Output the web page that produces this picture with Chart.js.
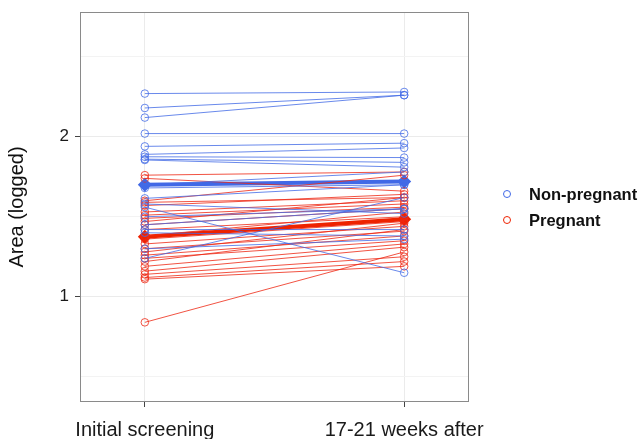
<!DOCTYPE html>
<html>
<head>
<meta charset="utf-8">
<script src="https://cdn.jsdelivr.net/npm/chart.js@4"></script>
<style>
  html, body { margin: 0; padding: 0; background: #fff; }
  #wrap { position: relative; width: 644px; height: 439px; }
  #legend { position: absolute; left: 503px; top: 181px; font-family: "Liberation Sans", Arial, sans-serif; font-weight: bold; font-size: 16.5px; color: #111; }
  .item { display: flex; align-items: center; height: 26px; }
  .dot { width: 6px; height: 6px; border: 1.3px solid; border-radius: 50%; margin-right: 18px; }
</style>
</head>
<body>
<div id="wrap">
  <canvas id="chart" width="644" height="439"></canvas>
  <div id="legend"></div>
</div>
<script>
// categorias e ticks
const categories = ['Initial screening', '17-21 weeks after'];
const yTicks = [0.5, 1, 1.5, 2, 2.5];
const yLabels = ['', '1', '', '2', ''];
const groups = ['Non-pregnant', 'Pregnant'];

// valores individuais (log da area)
const nonPregInitial = [2.27, 2.18, 2.12, 2.02, 1.94, 1.89, 1.875, 1.86, 1.855, 1.70, 1.68, 1.615, 1.58, 1.56, 1.50, 1.45, 1.42, 1.40, 1.30, 1.24];
const nonPregAfter   = [2.28, 2.26, 2.26, 2.02, 1.96, 1.93, 1.87, 1.84, 1.81, 1.78, 1.70, 1.70, 1.52, 1.15, 1.55, 1.55, 1.42, 1.38, 1.36, 1.62];
const pregInitial = [1.76, 1.74, 1.60, 1.59, 1.57, 1.53, 1.51, 1.49, 1.47, 1.45, 1.42, 1.38, 1.36, 1.33, 1.30, 1.28, 1.26, 1.24, 1.22, 1.19, 1.16, 1.14, 1.12, 1.11, 0.84];
const pregAfter   = [1.78, 1.66, 1.76, 1.62, 1.64, 1.60, 1.58, 1.56, 1.62, 1.55, 1.50, 1.53, 1.47, 1.44, 1.41, 1.46, 1.38, 1.35, 1.42, 1.33, 1.31, 1.25, 1.22, 1.19, 1.28];

// medias por grupo
const nonPregMean = [1.70, 1.72];
const pregMean = [1.375, 1.485];

const blue = 'rgba(68, 108, 230, 0.8)';
const red = 'rgba(238, 40, 20, 0.8)';
const blueSolid = '#4169E6';
const redSolid = '#EE2200';
const font = 'Liberation Sans, Arial, sans-serif';

function subjectSets(ini, aft, color) {
  return ini.map((v, i) => ({
    data: [{ x: 1, y: v }, { x: 2, y: aft[i] }],
    showLine: true,
    borderColor: color,
    borderWidth: 1,
    pointRadius: 3.8,
    pointBorderWidth: 1,
    pointBorderColor: color,
    pointBackgroundColor: 'rgba(0,0,0,0)'
  }));
}

function meanSet(vals, color) {
  return {
    data: vals.map((v, i) => ({ x: i + 1, y: v })),
    showLine: true,
    borderColor: color,
    borderWidth: 4,
    pointStyle: 'rectRot',
    pointRadius: 7,
    pointBorderWidth: 0,
    pointBackgroundColor: color
  };
}

const datasets = [
  ...subjectSets(nonPregInitial, nonPregAfter, blue),
  ...subjectSets(pregInitial, pregAfter, red),
  meanSet(nonPregMean, blueSolid),
  meanSet(pregMean, redSolid)
];

const panelBorder = {
  id: 'panelBorder',
  beforeDatasetsDraw(chart) {
    const { ctx, chartArea: a } = chart;
    ctx.save();
    ctx.strokeStyle = '#8a8a8a';
    ctx.lineWidth = 1;
    ctx.strokeRect(a.left + 0.5, a.top + 0.5, a.right - a.left - 1, a.bottom - a.top - 1);
    ctx.restore();
  }
};

new Chart(document.getElementById('chart'), {
  type: 'scatter',
  data: { datasets },
  plugins: [panelBorder],
  options: {
    responsive: false,
    animation: false,
    layout: { padding: { top: 12, right: 175, left: 0, bottom: 0 } },
    plugins: { legend: { display: false }, tooltip: { enabled: false } },
    scales: {
      x: {
        type: 'linear',
        min: 0.75,
        max: 2.25,
        afterBuildTicks: s => { s.ticks = [1, 2].map(v => ({ value: v })); },
        afterFit: s => { s.height = 37; s.paddingLeft = 0; s.paddingRight = 0; },
        ticks: {
          callback: v => categories[v - 1],
          font: { family: font, size: 20 },
          color: '#1a1a1a',
          padding: 11,
          maxRotation: 0
        },
        grid: { color: '#EBEBEB', tickColor: '#444', tickLength: 5 },
        border: { display: false }
      },
      y: {
        type: 'linear',
        min: 0.342,
        max: 2.78,
        afterBuildTicks: s => { s.ticks = yTicks.map(v => ({ value: v })); },
        afterFit: s => { s.width = 80; s.paddingTop = 0; s.paddingBottom = 0; },
        ticks: {
          callback: v => yLabels[yTicks.indexOf(v)],
          font: { family: font, size: 17 },
          color: '#1a1a1a',
          padding: 6
        },
        grid: {
          color: c => Number.isInteger(c.tick.value) ? '#EBEBEB' : '#F3F3F3',
          tickColor: c => Number.isInteger(c.tick.value) ? '#444' : 'rgba(0,0,0,0)',
          tickLength: 5
        },
        border: { display: false },
        title: {
          display: true,
          text: 'Area (logged)',
          font: { family: font, size: 20 },
          color: '#111',
          padding: { top: 5, bottom: 0 }
        }
      }
    }
  }
});

// legenda em HTML
document.getElementById('legend').innerHTML = groups.map((g, i) =>
  `<div class="item"><span class="dot" style="border-color:${i ? redSolid : blueSolid}"></span>${g}</div>`
).join('');
</script>
</body>
</html>
